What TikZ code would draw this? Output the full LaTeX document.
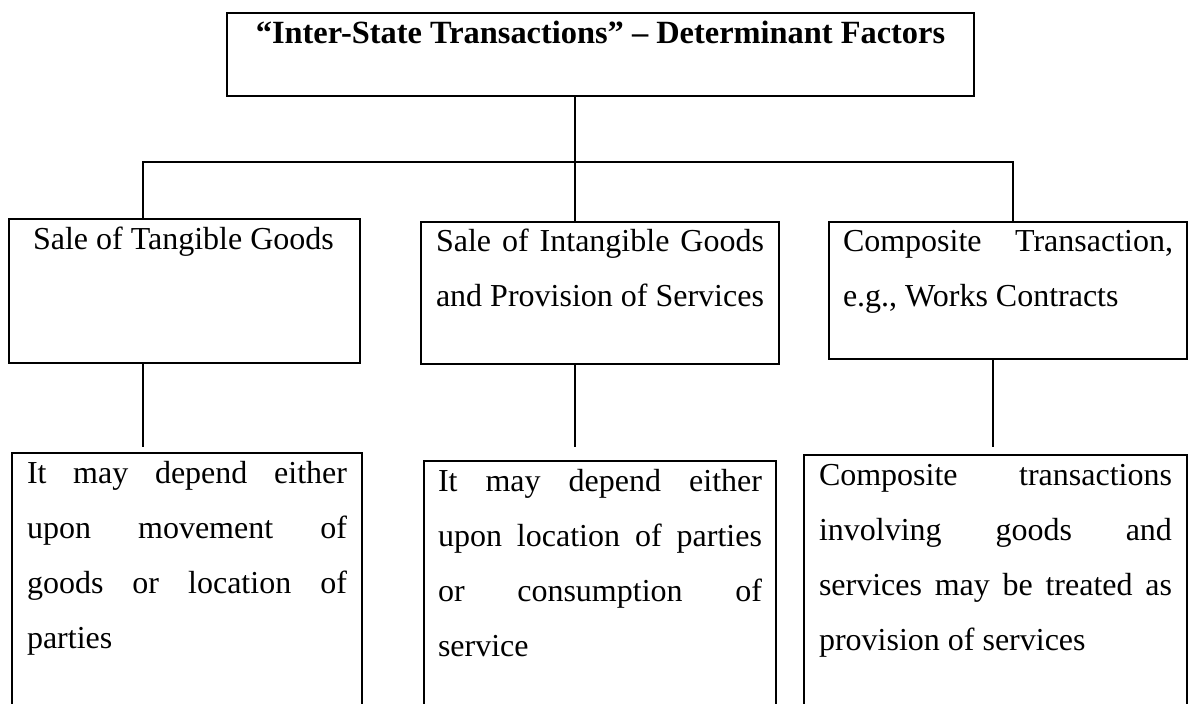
\documentclass[tikz,border=0pt]{standalone}
\usepackage{fontspec}
\setmainfont{Liberation Serif}
\tikzset{
    box/.style={draw, rectangle, anchor=north west, inner ysep=0pt, align=justify,
        font=\fontsize{16}{27.5}\selectfont},
}
\begin{document}
\begin{tikzpicture}[x=0.5pt, y=-0.5pt, line width=1pt]
    \clip (0,0) rectangle (1189,703);
    \node[box, align=center, font=\fontsize{16.2}{27.5}\selectfont\bfseries, inner xsep=0pt,
        minimum width=373.5pt, text height=15pt, text depth=26.5pt] (T) at (226,12)
        {“Inter-State Transactions” – Determinant Factors};
    \node[box, text width=151.5pt, inner xsep=12pt, text height=15pt, text depth=57pt] (TG) at (8,218)
        {Sale of Tangible Goods};
    \node[box, text width=164pt, inner xsep=7.5pt, text height=14.5pt, text depth=56.5pt] (IG) at (420,221)
        {Sale of Intangible Goods\linebreak and Provision of Services};
    \node[box, text width=165pt, inner xsep=7pt, text height=14.5pt, text depth=54pt] (CT) at (828,221)
        {Composite Transaction,\linebreak e.g., Works Contracts};
    \node[box, text width=160pt, inner xsep=7.5pt, text height=15pt, text depth=119pt] (MG) at (11,452)
        {It may depend either\linebreak upon movement of\linebreak goods or location of\linebreak parties};
    \node[box, text width=162pt, inner xsep=7pt, text height=15pt, text depth=115pt] (LP) at (423,460)
        {It may depend either\linebreak upon location of parties\linebreak or consumption of\linebreak service};
    \node[box, text width=176.5pt, inner xsep=7.5pt, text height=15pt, text depth=117.5pt] (PS) at (803,454)
        {Composite transactions\linebreak involving goods and\linebreak services may be treated as\linebreak provision of services};
    \coordinate (L) at (143,162);
    \coordinate (M) at (575,162);
    \coordinate (R) at (1013,162);
    \coordinate (K) at (993,447);
    \draw (M |- T.south) -- (M |- IG.north);
    \draw (L |- TG.north) -- (L) -- (R) -- (R |- CT.north);
    \draw[shorten >=2.5pt] (L |- TG.south) -- (L |- MG.north);
    \draw[shorten >=6.5pt] (M |- IG.south) -- (M |- LP.north);
    \draw[shorten >=3.5pt] (K |- CT.south) -- (K |- PS.north);
\end{tikzpicture}
\end{document}
